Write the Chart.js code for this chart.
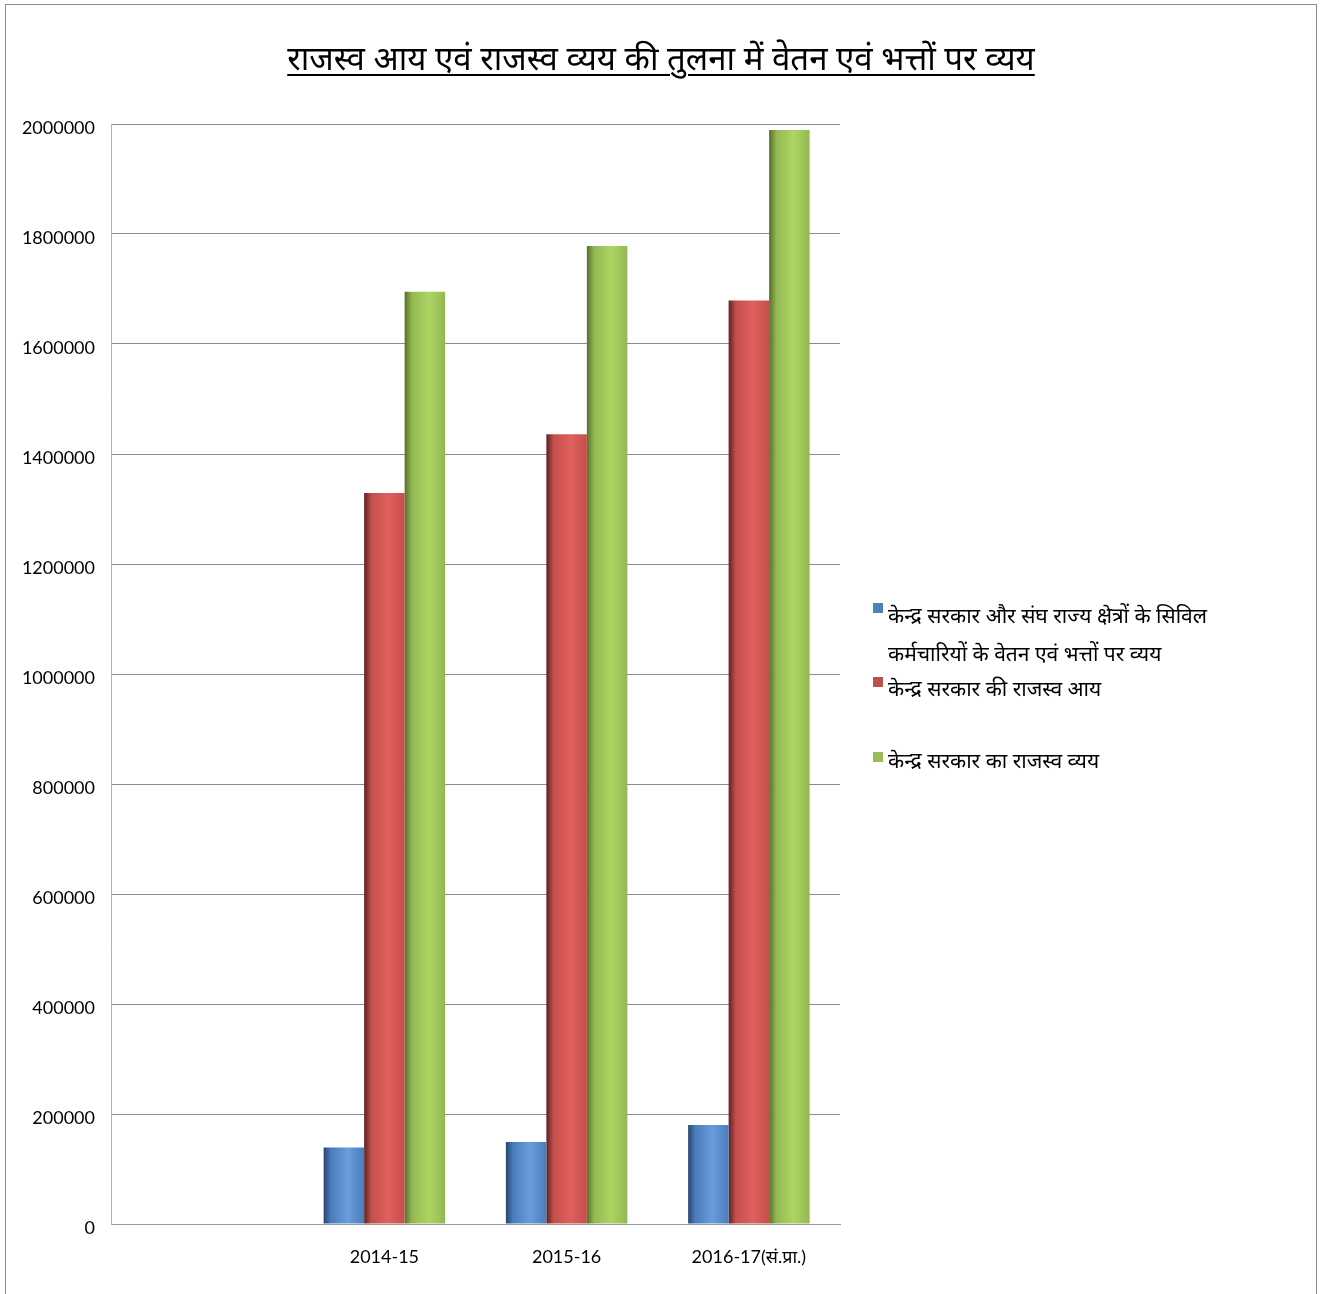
<!DOCTYPE html>
<html>
<head>
<meta charset="utf-8">
<script src="https://cdn.jsdelivr.net/npm/chart.js@4.4.1/dist/chart.umd.min.js"></script>
<style>
  html, body { margin: 0; padding: 0; background: #fff; }
  #wrap { position: relative; width: 1322px; height: 1294px; overflow: hidden; }
  #frame { position: absolute; left: 5px; top: 4px; width: 1312px; height: 1300px; border: 1px solid #8c8c8c; box-sizing: border-box; }
  #title { position: absolute; left: 0; width: 1322px; top: 35px; text-align: center; font-family: "Noto Sans", sans-serif; font-size: 33px; color: #000; }
  #title span { text-decoration: underline; text-decoration-thickness: 2px; text-underline-offset: 4px; }
  canvas { position: absolute; left: 0; top: 0; }
  .lg { position: absolute; font-family: "Noto Sans", sans-serif; font-size: 21px; color: #000; line-height: 38px; white-space: nowrap; }
  .sw { position: absolute; width: 10px; height: 10px; }
</style>
</head>
<body>
<div id="wrap">
  <div id="frame"></div>
  <canvas id="c" width="1322" height="1294"></canvas>
  <div id="title"><span></span></div>
  <div id="legend"></div>
</div>
<script>
const titleText = "राजस्व आय एवं राजस्व व्यय की तुलना में वेतन एवं भत्तों पर व्यय";
const categories = ["", "2014-15", "2015-16", "2016-17(सं.प्रा.)"];
const seriesNames = [
  "केन्द्र सरकार और संघ राज्य क्षेत्रों के सिविल कर्मचारियों के वेतन एवं भत्तों पर व्यय",
  "केन्द्र सरकार की राजस्व  आय",
  "केन्द्र सरकार का राजस्व  व्यय"
];
const salaryValues  = [null, 139000, 149000, 180000];
const revenueIncome = [null, 1329000, 1436000, 1679000];
const revenueExpend = [null, 1695000, 1778000, 1989000];
const yTicks = [0, 200000, 400000, 600000, 800000, 1000000, 1200000, 1400000, 1600000, 1800000, 2000000];

const palettes = [
  {base: "#4F81BD", dark: "#27476f", mid: "#4a7cbc", light: "#6b9ddb"},
  {base: "#C0504D", dark: "#5e2220", mid: "#c44f4c", light: "#e0605d"},
  {base: "#9BBB59", dark: "#54702a", mid: "#93b853", light: "#aed463"}
];

document.querySelector('#title span').textContent = titleText;

const catPct = 3 / 4.5;
function barFill(ctx) {
  const chart = ctx.chart;
  const p = palettes[ctx.datasetIndex];
  const xs = chart.scales.x;
  if (!xs || !chart.chartArea || ctx.dataIndex === undefined) return p.base;
  const c = xs.getPixelForValue(ctx.dataIndex);
  const catW = (xs.right - xs.left) / categories.length;
  const bw = catW * catPct / 3;
  const left = c - 1.5 * bw + ctx.datasetIndex * bw;
  const g = chart.ctx.createLinearGradient(left, 0, left + bw, 0);
  g.addColorStop(0, p.dark);
  g.addColorStop(0.18, p.mid);
  g.addColorStop(0.6, p.light);
  g.addColorStop(1, p.mid);
  return g;
}

const dataArrays = [salaryValues, revenueIncome, revenueExpend];
const datasets = dataArrays.map((arr, i) => ({
  label: seriesNames[i],
  data: arr,
  backgroundColor: barFill,
  borderWidth: 0,
  categoryPercentage: catPct,
  barPercentage: 1
}));

new Chart(document.getElementById('c'), {
  type: 'bar',
  data: { labels: categories, datasets },
  options: {
    responsive: false,
    animation: false,
    layout: { padding: { left: 0, right: 482, top: 124, bottom: 0 } },
    plugins: { legend: { display: false }, title: { display: false }, tooltip: { enabled: false } },
    scales: {
      x: {
        grid: { display: false },
        border: { display: true, color: '#9a9a9a' },
        ticks: { color: '#000', font: { family: 'Lato, "Noto Sans", sans-serif', size: 18 }, padding: 14, maxRotation: 0 },
        afterFit: s => { s.height = 70; }
      },
      y: {
        min: 0, max: 2000000,
        afterBuildTicks: s => { s.ticks = yTicks.map(v => ({ value: v })); },
        grid: { color: '#8c8c8c', lineWidth: 1, drawTicks: false },
        border: { display: true, color: '#b0b0b0' },
        ticks: { color: '#000', font: { family: 'Lato, sans-serif', size: 18 }, padding: 16, labelOffset: 4, callback: v => String(v) },
        afterFit: s => { s.width = 111; }
      }
    }
  }
});

// legend (HTML)
const lg = document.getElementById('legend');
const legendLayout = [
  { sw: [873, 603], text: "केन्द्र सरकार और संघ राज्य क्षेत्रों के सिविल<br>कर्मचारियों के वेतन एवं भत्तों पर व्यय", tx: [888, 596] },
  { sw: [873, 677], text: seriesNames[1], tx: [888, 669] },
  { sw: [873, 752], text: seriesNames[2], tx: [888, 741] }
];
legendLayout.forEach((l, i) => {
  const s = document.createElement('div');
  s.className = 'sw';
  s.style.left = l.sw[0] + 'px'; s.style.top = l.sw[1] + 'px';
  s.style.background = palettes[i].base;
  lg.appendChild(s);
  const t = document.createElement('div');
  t.className = 'lg';
  t.style.left = l.tx[0] + 'px'; t.style.top = l.tx[1] + 'px';
  t.innerHTML = l.text;
  lg.appendChild(t);
});
</script>
</body>
</html>
